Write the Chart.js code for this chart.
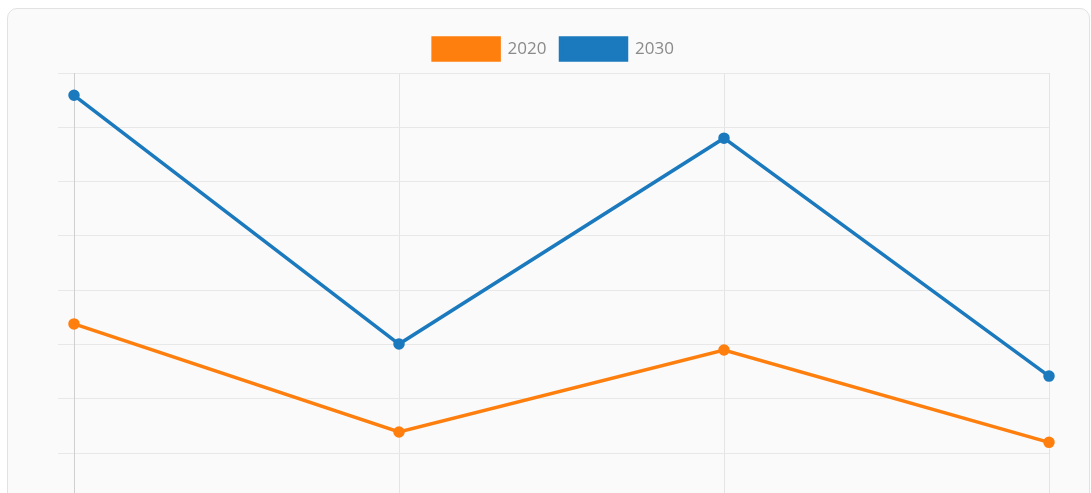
<!DOCTYPE html>
<html>
<head>
<meta charset="utf-8">
<script src="https://cdn.jsdelivr.net/npm/chart.js@4/dist/chart.umd.min.js"></script>
<style>
    html, body { margin: 0; padding: 0; background: #fff; overflow: hidden; }
    .card {
        position: absolute; left: 7px; top: 8px; width: 1081px; height: 560px;
        border: 1px solid #e2e2e2; border-radius: 10px; background: #fafafa;
    }
</style>
</head>
<body>
<div class="card">
    <div style="position:absolute;left:0;top:0;width:1081px;height:506px;">
        <canvas id="lineChart"></canvas>
    </div>
</div>
<script>
// valores
const categories = ['Q1', 'Q2', 'Q3', 'Q4'];
const values2020 = [33.8, 13.9, 29.0, 12.0];
const values2030 = [75.9, 30.1, 68.0, 24.2];
const seriesNames = ['2020', '2030'];

// un poco de aire entre la leyenda y el grafico
const legendSpacing = {
    id: 'legendSpacing',
    beforeInit(chart) {
        const originalFit = chart.legend.fit;
        chart.legend.fit = function fit() {
            originalFit.bind(chart.legend)();
            this.height += 3;
        };
    }
};

const ctx = document.getElementById('lineChart').getContext('2d');

new Chart(ctx, {
    type: 'line',
    data: {
        labels: categories,
        datasets: [{
            label: seriesNames[0],
            data: values2020,
            borderColor: '#ff7f0e',
            backgroundColor: '#ff7f0e',
            borderWidth: 3.5,
            pointRadius: 4,
            tension: 0
        }, {
            label: seriesNames[1],
            data: values2030,
            borderColor: '#1b79bd',
            backgroundColor: '#1b79bd',
            borderWidth: 3.5,
            pointRadius: 4,
            tension: 0
        }]
    },
    plugins: [legendSpacing],
    options: {
        responsive: true,
        maintainAspectRatio: false,
        animation: false,
        layout: {
            padding: { top: 15, left: 50, right: 40, bottom: 0 }
        },
        plugins: {
            legend: {
                labels: {
                    boxWidth: 66,
                    boxHeight: 22,
                    padding: 14,
                    color: '#8a8a8a',
                    font: { family: 'Open Sans', size: 17 }
                }
            },
            tooltip: { enabled: false }
        },
        scales: {
            x: {
                ticks: { display: false },
                grid: { color: '#e4e4e4', drawTicks: false },
                border: { color: '#cfcfcf' }
            },
            y: {
                min: 0,
                max: 80,
                ticks: { display: false, stepSize: 10 },
                grid: { color: '#e8e8e8', tickLength: 16 },
                border: { color: '#cfcfcf' }
            }
        }
    }
});
</script>
</body>
</html>
